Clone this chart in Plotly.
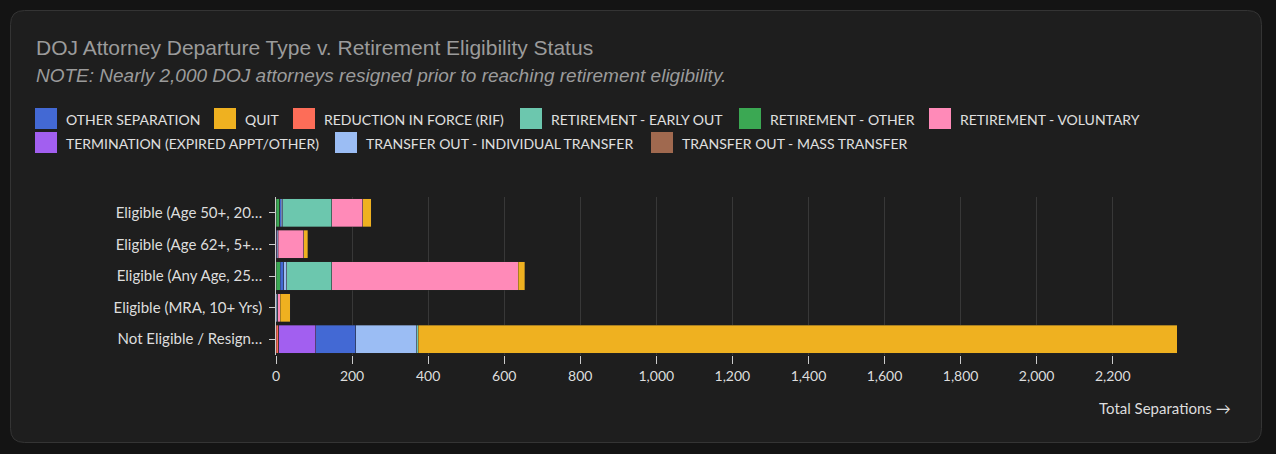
import plotly.graph_objects as go

W, H = 1276, 454

# rows, top to bottom
categories = [
    "Eligible (Age 50+, 20…",
    "Eligible (Age 62+, 5+…",
    "Eligible (Any Age, 25…",
    "Eligible (MRA, 10+ Yrs)",
    "Not Eligible / Resign…",
]

# departures per separation type (same row order as categories)
other_separation = [4, 1, 10, 0, 106]
quit_ = [22, 11, 17, 26, 1995]
rif = [0, 0, 0, 0, 7]
ret_early_out = [129, 0, 119, 0, 4]
ret_other = [10, 0, 11, 0, 0]
ret_voluntary = [81, 67, 490, 7, 0]
termination = [0, 2, 0, 1, 97]
transfer_individual = [4, 3, 7, 3, 160]
transfer_mass = [0, 0, 0, 0, 0]

x_ticks = list(range(0, 2201, 200))

# name, values, colour  (legend order = alphabetical)
series = [
    ("OTHER SEPARATION", other_separation, "#4369d4"),
    ("QUIT", quit_, "#efb120"),
    ("REDUCTION IN FORCE (RIF)", rif, "#fd6d58"),
    ("RETIREMENT - EARLY OUT", ret_early_out, "#6cc7ae"),
    ("RETIREMENT - OTHER", ret_other, "#3ba853"),
    ("RETIREMENT - VOLUNTARY", ret_voluntary, "#ff8ab8"),
    ("TERMINATION (EXPIRED APPT/OTHER)", termination, "#a25ff0"),
    ("TRANSFER OUT - INDIVIDUAL TRANSFER", transfer_individual, "#9bbdf4"),
    ("TRANSFER OUT - MASS TRANSFER", transfer_mass, "#a0694f"),
]

# stacks are drawn smallest total first
stack_order = sorted(series, key=lambda s: sum(s[1]))

fig = go.Figure()
for name, vals, col in stack_order:
    fig.add_trace(go.Bar(
        y=categories, x=vals, name=name, orientation="h",
        marker=dict(color=col, line=dict(color="rgba(40,40,40,0.6)", width=0.6)),
        showlegend=False,
        hovertemplate="%{y}<br>" + name + ": %{x:,}<extra></extra>",
    ))

totals = [sum(v) for v in zip(*[s[1] for s in series])]

# plot area in pixels
L, R, T, B = 276, 1177, 197, 355
def px(x):
    return (x - L) / (R - L)
def py(y):
    return (B - y) / (B - T)

# card behind everything
cx0, cy0, cx1, cy1, r = 10.5, 10.5, 1261.5, 442.5, 14
card = (f"M {px(cx0 + r)},{py(cy0)} L {px(cx1 - r)},{py(cy0)} "
        f"Q {px(cx1)},{py(cy0)} {px(cx1)},{py(cy0 + r)} "
        f"L {px(cx1)},{py(cy1 - r)} Q {px(cx1)},{py(cy1)} {px(cx1 - r)},{py(cy1)} "
        f"L {px(cx0 + r)},{py(cy1)} Q {px(cx0)},{py(cy1)} {px(cx0)},{py(cy1 - r)} "
        f"L {px(cx0)},{py(cy0 + r)} Q {px(cx0)},{py(cy0)} {px(cx0 + r)},{py(cy0)} Z")
shapes = [dict(type="path", path=card, xref="paper", yref="paper", layer="below",
               fillcolor="#1e1e1e", line=dict(color="#343434", width=1))]

annotations = [
    dict(text="DOJ Attorney Departure Type v. Retirement Eligibility Status",
         x=px(34), y=py(47), xref="paper", yref="paper", xanchor="left", yanchor="middle",
         showarrow=False, font=dict(family="Liberation Sans", size=21, color="#9b9b9b")),
    dict(text="<i>NOTE: Nearly 2,000 DOJ attorneys resigned prior to reaching retirement eligibility.</i>",
         x=px(34), y=py(75), xref="paper", yref="paper", xanchor="left", yanchor="middle",
         showarrow=False, font=dict(family="Liberation Sans", size=19, color="#9b9b9b")),
    dict(text="Total Separations →", x=px(1233), y=py(408), xref="paper", yref="paper",
         xanchor="right", yanchor="middle", showarrow=False,
         font=dict(family="Lato", size=15, color="#dddddd")),
]

# hand-built legend with square swatches (two rows)
legend_slots = [(35, 108), (214, 108), (293, 108), (520, 108), (739, 108), (929, 108),
                (35, 132), (335, 132), (651, 132)]
for (name, vals, col), (lx, ly) in zip(series, legend_slots):
    shapes.append(dict(type="rect", xref="paper", yref="paper",
                       x0=px(lx), x1=px(lx + 22), y0=py(ly), y1=py(ly + 21),
                       fillcolor=col, line=dict(width=0)))
    annotations.append(dict(text=name, x=px(lx + 29), y=py(ly + 11), xref="paper", yref="paper",
                            xanchor="left", yanchor="middle", showarrow=False,
                            font=dict(family="Lato", size=14, color="#e0e0e0")))

fig.update_layout(
    width=W, height=H,
    barmode="stack", bargap=0.11,
    paper_bgcolor="#141414", plot_bgcolor="#1e1e1e",
    margin=dict(l=L, r=W - R, t=T, b=H - B),
    showlegend=False,
    font=dict(family="Lato", size=14, color="#dddddd"),
    shapes=shapes, annotations=annotations,
    xaxis=dict(range=[0, max(totals)], tickvals=x_ticks, tickformat=",",
               showgrid=True, gridcolor="#383838", gridwidth=1, zeroline=False,
               ticks="outside", ticklen=8, tickcolor="#cccccc", showline=False,
               tickfont=dict(size=14, color="#dddddd")),
    yaxis=dict(autorange="reversed", showgrid=False, showline=True, linecolor="#cccccc",
               linewidth=1, ticks="outside", ticklen=6, tickcolor="#cccccc",
               tickfont=dict(size=15, color="#dddddd"), ticksuffix=" "),
)

# drop the default page margin so the figure sits at the window's corner
fig.write_html("out.html", config={"displayModeBar": False},
               post_script="document.body.style.margin='0';document.body.style.background='#141414';")
